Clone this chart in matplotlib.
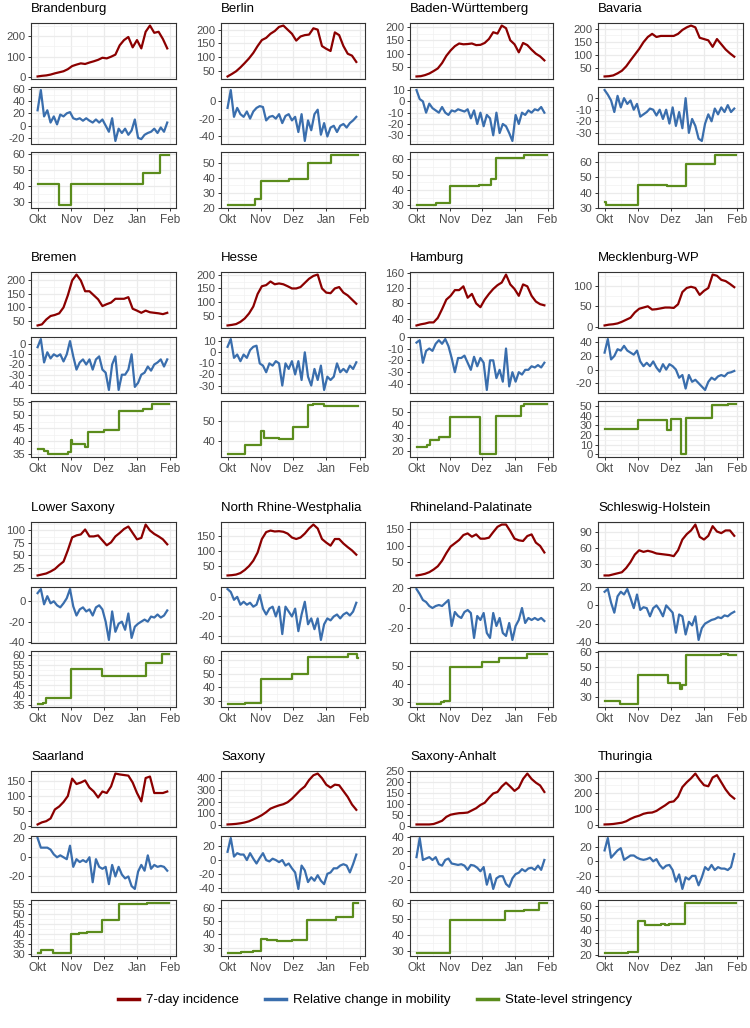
import numpy as np
import matplotlib as mpl
mpl.use('Agg')
import matplotlib.pyplot as plt
import matplotlib.dates as mdates
from matplotlib.ticker import AutoMinorLocator, FixedLocator
from matplotlib.lines import Line2D

plt.rcParams['font.family'] = ['Liberation Sans', 'DejaVu Sans']
plt.rcParams['axes.unicode_minus'] = False

# sampling grid: incidence every 4 days, mobility every 3 days (Oct 1 - Jan 31)
start = np.datetime64('2020-10-01')
stop = np.datetime64('2021-02-01')
inc_dates = np.arange(start, stop, 4)
mob_dates = np.arange(start, stop, 3)
last_day = 122

month_ticks = np.array(['2020-10-01', '2020-11-01', '2020-12-01', '2021-01-01', '2021-02-01'],
                       dtype='datetime64[D]')
month_labels = ['Okt', 'Nov', 'Dez', 'Jan', 'Feb']

# ---- data: 7-day incidence, mobility change, stringency (change days / values) ----
brandenburg_inc = [5, 8, 10, 14, 20, 25, 30, 40, 55, 62, 68, 65, 72, 78, 85, 95, 92, 100, 110, 155,
                   180, 195, 145, 180, 140, 220, 250, 215, 220, 185, 140]
brandenburg_mob = [25, 58, 15, 25, 5, 15, 2, 18, 15, 20, 22, 12, 10, 12, 8, 12, 8, 5, 10, 5,
                   10, 0, -10, 12, -25, -5, -12, -5, -15, -8, 10, -20, -22, -15, -12, -10, -5, -12, -3, -10, 5]
brandenburg_str_days = [0, 20, 31, 98, 113]
brandenburg_str_vals = [41, 28, 41.5, 48, 59.5]
brandenburg_ticks = ([0, 100, 200], [-20, 0, 20, 40, 60], [30, 40, 50, 60])

berlin_inc = [29, 38, 48, 62, 78, 95, 115, 140, 162, 170, 185, 195, 210, 215, 200, 185, 160, 175, 180, 182,
              205, 200, 140, 130, 122, 190, 180, 140, 112, 105, 82]
berlin_mob = [-8, 12, -18, -8, -15, -18, -12, -20, -12, -8, -6, -7, -22, -18, -17, -20, -15, -25, -17, -15,
              -22, -18, -35, -15, -45, -22, -33, -15, -10, -38, -25, -40, -30, -28, -35, -28, -26, -30, -25, -22, -18]
berlin_str_days = [0, 26, 31, 57, 75, 96]
berlin_str_vals = [21.5, 25.5, 38, 39.5, 50, 55.5]
berlin_ticks = ([50, 100, 150, 200], [-40, -20, 0], [20, 30, 40, 50])

bw_inc = [15, 16, 20, 26, 35, 45, 65, 92, 112, 128, 138, 135, 136, 138, 132, 133, 140, 155, 180, 175,
          205, 195, 150, 135, 105, 140, 132, 115, 100, 90, 75]
bw_mob = [10, 2, 0, -10, -2, -6, -8, -10, -5, -10, -12, -8, -9, -7, -8, -9, -7, -15, -8, -20,
          -10, -22, -12, -15, -30, -10, -28, -20, -22, -28, -35, -12, -20, -10, -12, -8, -10, -7, -8, -5, -10]
bw_str_days = [0, 18, 31, 59, 70, 75, 101]
bw_str_vals = [30, 31.5, 42.5, 43.5, 47, 61, 63]
bw_ticks = ([50, 100, 150, 200], [-30, -20, -10, 0, 10], [30, 40, 50, 60])

bavaria_inc = [16, 17, 20, 28, 38, 55, 78, 100, 122, 148, 168, 180, 168, 172, 172, 172, 172, 180, 195, 205,
               212, 205, 165, 160, 155, 130, 160, 140, 120, 105, 92]
bavaria_mob = [7, 3, -2, -12, 2, -8, 0, -5, -2, -10, -5, -16, -14, -12, -9, -10, -15, -10, -18, -10,
               -22, -8, -24, -12, -26, 0, -30, -18, -24, -35, -37, -22, -14, -20, -9, -14, -8, -12, -6, -12, -9]
bavaria_str_days = [0, 1, 18, 31, 58, 75, 102]
bavaria_str_vals = [34, 31.5, 32, 45, 44.5, 59, 65]
bavaria_ticks = ([50, 100, 150, 200], [-30, -20, -10, 0], [30, 40, 50, 60])

bremen_inc = [33, 37, 55, 68, 72, 78, 100, 145, 200, 222, 200, 160, 160, 145, 130, 105, 112, 118, 132, 132,
              132, 138, 95, 88, 80, 88, 82, 80, 78, 75, 80]
bremen_mob = [-3, 5, -18, -8, -14, -10, -12, -10, -17, -10, 3, -12, -25, -18, -15, -20, -15, -25, -15, -12,
              -25, -28, -45, -20, -12, -45, -30, -30, -25, -10, -42, -38, -30, -28, -22, -26, -20, -18, -15, -22, -15]
bremen_str_days = [0, 6, 10, 28, 31, 32, 44, 47, 61, 75, 98, 106]
bremen_str_vals = [37, 36.5, 35, 36, 40.5, 39, 38, 43.5, 44.5, 51.5, 52.5, 54.5]
bremen_ticks = ([50, 100, 150, 200], [-40, -30, -20, -10, 0], [35, 40, 45, 50, 55])

hesse_inc = [17, 19, 22, 30, 42, 60, 85, 130, 158, 162, 175, 165, 168, 165, 158, 150, 150, 155, 170, 185,
             195, 200, 150, 135, 133, 150, 155, 135, 125, 110, 95]
hesse_mob = [5, 12, -5, -2, -8, -2, -5, 2, 5, 6, -10, -12, -18, -10, -12, -8, -10, -30, -10, -15,
             -8, -20, -8, -25, 0, -22, -30, -15, -25, -12, -34, -22, -25, -22, -10, -18, -15, -18, -12, -15, -9]
hesse_str_days = [0, 16, 31, 34, 48, 61, 75, 80, 90, 116]
hesse_str_vals = [33.5, 38, 45, 41.5, 41, 47, 58, 58.5, 57.5, 57.2]
hesse_ticks = ([50, 100, 150, 200], [-30, -20, -10, 0, 10], [40, 50])

hamburg_inc = [22, 25, 27, 30, 30, 42, 65, 90, 100, 115, 115, 125, 95, 105, 80, 70, 90, 105, 118, 128,
               135, 156, 130, 118, 100, 130, 125, 100, 85, 78, 75]
hamburg_mob = [-5, -3, -22, -12, -10, -12, -6, -3, -6, -2, -8, -18, -30, -18, -18, -16, -22, -28, -17, -25,
               -18, -22, -45, -20, -20, -35, -28, -38, -10, -42, -30, -38, -30, -32, -28, -28, -25, -26, -24, -26, -22]
hamburg_str_days = [0, 10, 13, 21, 31, 60, 75, 98, 101]
hamburg_str_vals = [23, 24.5, 28.5, 30.5, 46, 17, 46.5, 54.5, 56.5]
hamburg_ticks = ([40, 80, 120, 160], [-40, -30, -20, -10, 0], [20, 30, 40, 50])

mv_inc = [3, 5, 6, 8, 12, 17, 22, 35, 44, 47, 50, 42, 43, 45, 47, 47, 46, 55, 85, 95,
          98, 95, 78, 88, 95, 128, 125, 115, 112, 105, 97]
mv_mob = [25, 45, 15, 20, 30, 28, 35, 28, 25, 22, 28, 12, 5, 10, 5, 12, 3, -3, 8, 0,
          8, 5, 0, -12, -8, -28, -8, -18, -15, -20, -25, -30, -18, -12, -15, -10, -8, -10, -5, -4, -2]
mv_str_days = [0, 31, 58, 61, 71, 75, 99, 114]
mv_str_vals = [26.5, 36, 25.5, 37, 0, 38, 51.5, 52.5]
mv_ticks = ([0, 50, 100], [-20, 0, 20, 40], [0, 10, 20, 30, 40, 50])

ls_inc = [9, 11, 13, 17, 22, 30, 37, 60, 86, 90, 92, 102, 88, 88, 90, 80, 70, 76, 88, 95,
          103, 108, 95, 82, 85, 112, 100, 93, 88, 82, 72]
ls_mob = [8, 12, -3, 5, -2, 0, -4, -6, -2, 3, 12, -5, -14, -8, -6, -10, -8, -14, -6, -4,
          -8, -20, -38, -10, -30, -22, -20, -28, -12, -36, -25, -22, -20, -18, -20, -15, -16, -13, -16, -14, -9]
ls_str_days = [0, 5, 8, 31, 60, 100, 115]
ls_str_vals = [35.5, 36, 38.8, 53, 49.5, 56, 60.5]
ls_ticks = ([25, 50, 75, 100], [-40, -20, 0], [35, 40, 45, 50, 55, 60])

nrw_inc = [19, 20, 22, 27, 37, 50, 68, 95, 140, 163, 168, 165, 166, 164, 158, 145, 140, 145, 158, 175,
           188, 175, 140, 128, 118, 140, 140, 125, 113, 102, 88]
nrw_mob = [8, 5, -3, 0, -8, -5, -8, -6, -10, -8, 2, -12, -18, -12, -10, -20, -10, -38, -10, -15,
           -20, -12, -35, -18, -5, -28, -22, -33, -22, -44, -28, -22, -24, -20, -18, -22, -18, -16, -19, -15, -6]
nrw_str_days = [0, 16, 31, 60, 75, 112, 121]
nrw_str_vals = [27.5, 28.5, 46.5, 50, 62.5, 65, 62]
nrw_ticks = ([50, 100, 150, 200], [-40, -20, 0], [30, 40, 50, 60])

rp_inc = [10, 12, 15, 20, 28, 38, 55, 78, 98, 108, 118, 133, 138, 128, 135, 122, 122, 125, 142, 158,
          165, 165, 145, 122, 117, 115, 130, 135, 110, 100, 80]
rp_mob = [19, 14, 8, 6, 2, 0, 2, 3, 2, 5, 8, -18, -4, -8, -10, -4, -2, -5, -30, -8,
          -12, -5, -25, -30, -5, -18, -10, -25, -28, -15, -32, -18, -12, 0, -15, -10, -12, -10, -12, -10, -13]
rp_str_days = [0, 18, 23, 26, 31, 61, 77, 104]
rp_str_vals = [28.5, 29, 30, 30.5, 49.5, 52.5, 54.5, 57]
rp_ticks = ([50, 100, 150], [-20, 0, 20], [30, 40, 50])

sh_inc = [8, 8, 10, 12, 14, 22, 33, 47, 55, 52, 54, 52, 49, 48, 47, 46, 44, 55, 75, 85,
          92, 103, 80, 75, 82, 100, 90, 87, 92, 92, 82]
sh_mob = [15, 18, 3, -8, 10, 15, 12, 18, 8, -3, 12, -5, -2, -3, -12, -3, 0, -5, -12, 0,
          -4, -8, -30, -10, -12, -32, -18, -22, -12, -38, -25, -20, -18, -16, -15, -13, -14, -11, -12, -9, -7]
sh_str_days = [0, 14, 22, 31, 59, 70, 72, 75, 108, 114]
sh_str_vals = [27, 25, 25.5, 44.5, 39, 35, 38, 58, 59, 58.3]
sh_ticks = ([30, 60, 90], [-40, -20, 0, 20], [30, 40, 50, 60])

saarland_inc = [5, 12, 16, 25, 55, 65, 80, 100, 158, 140, 145, 152, 128, 115, 95, 115, 110, 132, 175, 172,
                170, 168, 145, 110, 82, 160, 165, 110, 110, 110, 115]
saarland_mob = [20, 10, 10, 10, 8, 3, 0, 2, 0, -2, 12, -10, -2, -5, -3, -5, 0, -26, -2, -10,
                -12, -10, -28, -8, -20, -10, -18, -22, -20, -30, -33, -15, -8, -14, 2, -12, -8, -10, -9, -10, -14]
saarland_str_days = [0, 3, 14, 31, 38, 46, 60, 75, 101]
saarland_str_vals = [30.5, 32, 30.5, 40, 40.5, 41, 47, 55, 55.5]
saarland_ticks = ([0, 50, 100, 150], [-20, 0, 20], [30, 35, 40, 45, 50, 55])

saxony_inc = [5, 7, 10, 15, 22, 32, 48, 65, 85, 110, 140, 155, 168, 178, 195, 225, 262, 300, 330, 385,
              425, 440, 400, 345, 320, 345, 340, 290, 240, 175, 130]
saxony_mob = [12, 32, 5, 10, 8, 8, 0, 10, 2, -5, 3, 10, 0, -2, 2, 0, -3, 0, -8, -5,
              -12, -18, -42, -8, -15, -32, -25, -30, -22, -30, -35, -20, -18, -12, -12, -8, -6, -8, -18, -6, 8]
saxony_str_days = [0, 13, 24, 31, 37, 46, 60, 74, 101, 117]
saxony_str_vals = [25.5, 26.5, 27.5, 36.5, 35.5, 34.8, 35.5, 50.5, 53, 64]
saxony_ticks = ([0, 100, 200, 300, 400], [-40, -20, 0, 20], [30, 40, 50, 60])

sa_inc = [5, 5, 5, 5, 7, 14, 22, 40, 50, 54, 57, 58, 60, 70, 80, 95, 105, 128, 148, 155,
          180, 198, 180, 160, 175, 215, 240, 215, 198, 185, 155]
sa_mob = [12, 39, 8, 10, 12, 8, 12, 2, 0, 8, 10, 3, 2, 1, 2, 0, -6, 1, 0, -3,
          -8, -2, -27, -12, -33, -18, -15, -15, -26, -30, -18, -12, -10, -5, -8, -4, -3, -6, 0, -6, 8]
sa_str_days = [0, 20, 31, 83, 101, 115]
sa_str_vals = [28.8, 29.2, 49.5, 55, 55.5, 60]
sa_ticks = ([0, 50, 100, 150, 200, 250], [-20, 0, 20, 40], [30, 40, 50, 60])

thuringia_inc = [5, 6, 8, 12, 16, 25, 40, 52, 60, 72, 78, 80, 90, 108, 125, 145, 150, 180, 240, 270,
                 295, 325, 285, 252, 245, 300, 315, 270, 225, 190, 168]
thuringia_mob = [15, 32, 5, 10, 15, 18, 2, 5, 8, 8, 5, 3, 2, 3, 5, 0, 3, -5, -10, -6,
                 -5, -12, -28, -18, -38, -22, -25, -20, -20, -33, -22, -8, -12, -5, -12, -8, -10, -10, -12, -8, 10]
thuringia_str_days = [0, 12, 22, 31, 37, 52, 56, 60, 74, 102]
thuringia_str_vals = [21.5, 22, 22.5, 48, 44.5, 45.5, 44.5, 45.5, 62, 62.5]
thuringia_ticks = ([0, 100, 200, 300], [-40, -20, 0, 20], [20, 30, 40, 50, 60])

states = [
    ("Brandenburg", brandenburg_inc, brandenburg_mob, brandenburg_str_days, brandenburg_str_vals, brandenburg_ticks),
    ("Berlin", berlin_inc, berlin_mob, berlin_str_days, berlin_str_vals, berlin_ticks),
    ("Baden-Württemberg", bw_inc, bw_mob, bw_str_days, bw_str_vals, bw_ticks),
    ("Bavaria", bavaria_inc, bavaria_mob, bavaria_str_days, bavaria_str_vals, bavaria_ticks),
    ("Bremen", bremen_inc, bremen_mob, bremen_str_days, bremen_str_vals, bremen_ticks),
    ("Hesse", hesse_inc, hesse_mob, hesse_str_days, hesse_str_vals, hesse_ticks),
    ("Hamburg", hamburg_inc, hamburg_mob, hamburg_str_days, hamburg_str_vals, hamburg_ticks),
    ("Mecklenburg-WP", mv_inc, mv_mob, mv_str_days, mv_str_vals, mv_ticks),
    ("Lower Saxony", ls_inc, ls_mob, ls_str_days, ls_str_vals, ls_ticks),
    ("North Rhine-Westphalia", nrw_inc, nrw_mob, nrw_str_days, nrw_str_vals, nrw_ticks),
    ("Rhineland-Palatinate", rp_inc, rp_mob, rp_str_days, rp_str_vals, rp_ticks),
    ("Schleswig-Holstein", sh_inc, sh_mob, sh_str_days, sh_str_vals, sh_ticks),
    ("Saarland", saarland_inc, saarland_mob, saarland_str_days, saarland_str_vals, saarland_ticks),
    ("Saxony", saxony_inc, saxony_mob, saxony_str_days, saxony_str_vals, saxony_ticks),
    ("Saxony-Anhalt", sa_inc, sa_mob, sa_str_days, sa_str_vals, sa_ticks),
    ("Thuringia", thuringia_inc, thuringia_mob, thuringia_str_days, thuringia_str_vals, thuringia_ticks),
]

series_labels = ['7-day incidence', 'Relative change in mobility', 'State-level stringency']
colors = ['#8B0000', '#3A6EAD', '#5B8C1C']

# ---- layout (pixels) ----
W, H = 750, 1028
col_left = [31, 221, 410, 598]
col_right = [176, 365, 553, 743]
row_top = [23, 272, 522, 771]
panel_h = 56
panel_step = 64.5

fig = plt.figure(figsize=(W / 100, H / 100), dpi=100)

x0 = mdates.date2num(start)
mt = mdates.date2num(month_ticks)
mt_minor = (mt[:-1] + mt[1:]) / 2


def style_axis(ax, yticks, bottom):
    ax.set_xlim(x0 - 6.1, x0 + last_day + 6.1)
    ax.xaxis.set_major_locator(FixedLocator(mt))
    ax.xaxis.set_minor_locator(FixedLocator(mt_minor))
    ax.yaxis.set_major_locator(FixedLocator(yticks))
    ax.yaxis.set_minor_locator(AutoMinorLocator(2))
    ax.grid(True, which='major', color='#EBEBEB', lw=0.9)
    ax.grid(True, which='minor', color='#F1F1F1', lw=0.5)
    ax.set_axisbelow(True)
    for s in ax.spines.values():
        s.set_color('#333333')
        s.set_linewidth(0.8)
    ax.tick_params(axis='y', which='major', length=2.5, width=0.7, color='#333333',
                   labelsize=8.2, labelcolor='#4D4D4D', pad=1.5)
    ax.tick_params(which='minor', length=0)
    if bottom:
        ax.set_xticklabels(month_labels)
        ax.tick_params(axis='x', which='major', length=2.5, width=0.7, color='#333333',
                       labelsize=8.5, labelcolor='#4D4D4D', pad=1.5)
    else:
        ax.tick_params(axis='x', which='major', length=0, labelbottom=False)


for i, (name, inc, mob, sdays, svals, ticks) in enumerate(states):
    r, c = divmod(i, 4)
    left, right = col_left[c], col_right[c]
    top = row_top[r]
    str_dates = start + np.array(sdays + [last_day], dtype='timedelta64[D]')
    str_y = svals + [svals[-1]]
    xs = [mdates.date2num(inc_dates), mdates.date2num(mob_dates), mdates.date2num(str_dates)]
    ys = [inc, mob, str_y]
    for k in range(3):
        t = top + k * panel_step
        ax = fig.add_axes([left / W, 1 - (t + panel_h) / H, (right - left) / W, panel_h / H])
        if k == 2:
            ax.plot(xs[k], ys[k], color=colors[k], lw=1.6, drawstyle='steps-post')
        else:
            ax.plot(xs[k], ys[k], color=colors[k], lw=1.6)
        style_axis(ax, ticks[k], k == 2)
    fig.text(left / W, 1 - (top - 11) / H, name, fontsize=9.5, ha='left', va='baseline')

handles = [Line2D([], [], color=col, lw=2.5) for col in colors]
fig.legend(handles, series_labels, loc='center', bbox_to_anchor=(0.5, 1 - 1000 / H), ncol=3,
           frameon=False, fontsize=9.5, handlelength=1.6, handletextpad=0.5, columnspacing=2.0)

fig.savefig('out.png', dpi=100)
